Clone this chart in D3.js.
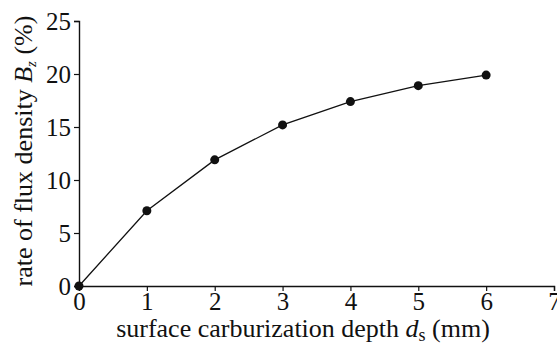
<!DOCTYPE html>
<html lang="en">
<head>
<meta charset="UTF-8">
<title>flux density</title>
<script src="https://cdn.jsdelivr.net/npm/d3@7"></script>
<style>
  body { margin: 0; background: #fff; }
  text { font-family: "Liberation Serif", "Times New Roman", serif; fill: #111; }
</style>
</head>
<body>
<svg id="svg"></svg>
<script>
// values
const depth = [0, 1, 2, 3, 4, 5, 6];
const rate = [0, 7.1, 11.9, 15.2, 17.4, 18.9, 19.9];
const xTicks = [0, 1, 2, 3, 4, 5, 6, 7];
const yTicks = [0, 5, 10, 15, 20, 25];

const width = 557, height = 344;
const margin = {left: 79, right: 3, top: 21, bottom: 58};

const svg = d3.select("#svg").attr("width", width).attr("height", height);

const x = d3.scaleLinear().domain([0, 7]).range([margin.left, width - margin.right]);
const y = d3.scaleLinear().domain([0, 25]).range([height - margin.bottom, margin.top]);

const xAxis = svg.append("g")
    .attr("transform", `translate(0,${y(0)})`)
    .call(d3.axisBottom(x).tickValues(xTicks).tickSize(5).tickPadding(2).tickFormat(d3.format("d")));
const yAxis = svg.append("g")
    .attr("transform", `translate(${x(0)},0)`)
    .call(d3.axisLeft(y).tickValues(yTicks).tickSize(5).tickPadding(3).tickFormat(d3.format("d")));

[xAxis, yAxis].forEach(function(g) {
    g.select(".domain").attr("stroke", "#111").attr("stroke-width", 1.4);
    g.selectAll(".tick line").attr("stroke", "#111").attr("stroke-width", 1.2);
    g.selectAll(".tick text").style("font-size", "25px").attr("fill", "#111")
        .style("font-family", "'Liberation Serif', serif");
});
xAxis.selectAll(".tick text").attr("dy", "0.68em");
yAxis.selectAll(".tick text").attr("dy", "0.34em");

const line = d3.line().x(function(d, i) { return x(depth[i]); }).y(function(d) { return y(d); });
svg.append("path")
    .datum(rate)
    .attr("d", line)
    .attr("fill", "none")
    .attr("stroke", "#111")
    .attr("stroke-width", 1.3);

svg.selectAll("circle")
    .data(rate)
    .enter()
    .append("circle")
    .attr("cx", function(d, i) { return x(depth[i]); })
    .attr("cy", function(d) { return y(d); })
    .attr("r", 4.5)
    .attr("fill", "#111");

// axis titles
const xt = svg.append("text")
    .attr("x", 303)
    .attr("y", 337)
    .attr("text-anchor", "middle")
    .style("font-size", "26px");
xt.append("tspan").text("surface carburization depth ");
xt.append("tspan").attr("font-style", "italic").text("d");
xt.append("tspan").attr("dy", 4).style("font-size", "18px").text("s");
xt.append("tspan").attr("dy", -4).text(" (mm)");

const yt = svg.append("text")
    .attr("transform", `translate(32,151) rotate(-90)`)
    .attr("text-anchor", "middle")
    .style("font-size", "26px");
yt.append("tspan").text("rate of flux density ");
yt.append("tspan").attr("font-style", "italic").text("B");
yt.append("tspan").attr("dy", 4).attr("font-style", "italic").style("font-size", "15px").text("z");
yt.append("tspan").attr("dy", -4).text(" (%)");
</script>
</body>
</html>
